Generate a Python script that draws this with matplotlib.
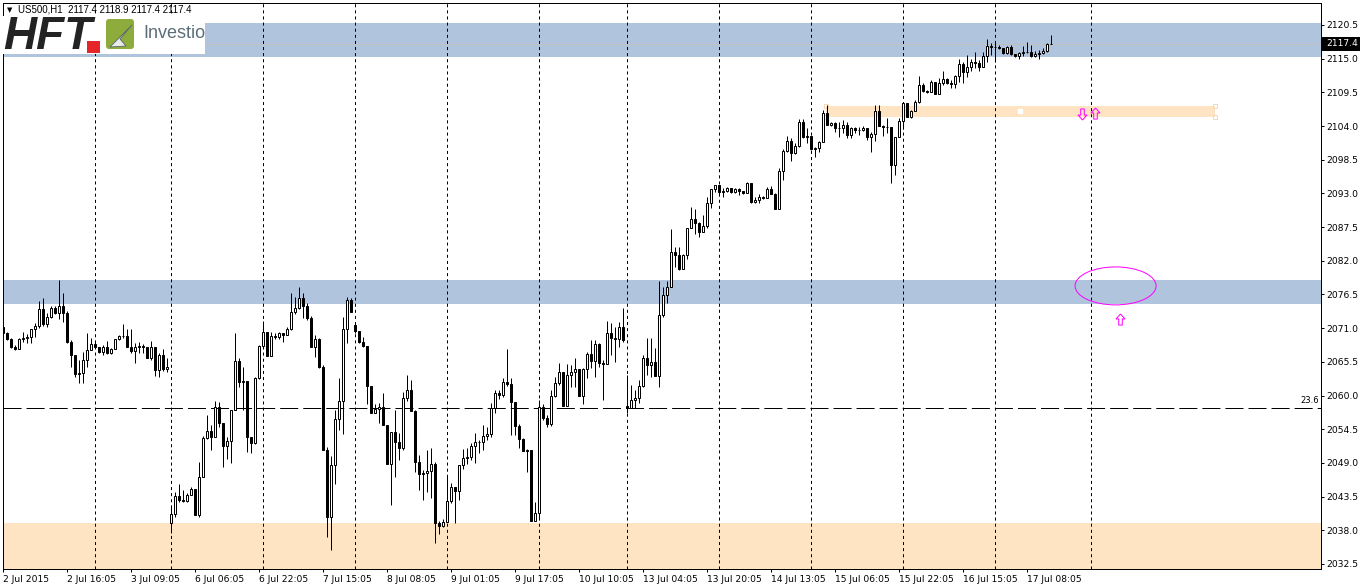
import numpy as np
import matplotlib
matplotlib.use("Agg")
import matplotlib.pyplot as plt
from matplotlib.patches import Rectangle, Ellipse, Polygon, FancyBboxPatch
from matplotlib.path import Path

plt.rcParams["lines.scale_dashes"] = False
plt.rcParams["font.family"] = ["DejaVu Sans"]

# ── US500 H1 bars, 2 Jul 2015 -> 17 Jul 2015 (open = previous close) ──────────
first_open = 2071.2
gap_opens = {42: 2039.2, 88: 2071.5, 156: 2058.3}

closes = [
    2070.2, 2069.2, 2067.9, 2067.6, 2069.2, 2069.4, 2069.6, 2070.9, 2071.4, 2074.1,
    2071.7, 2072.8, 2074.3, 2073.5, 2074.6, 2073.5, 2068.7, 2066.6, 2063.5, 2063.7,
    2065.8, 2067.4, 2068.4, 2067.9, 2067.1, 2067.9, 2066.9, 2067.6, 2069.2, 2069.7,
    2069.7, 2067.9, 2067.3, 2067.9, 2068.1, 2067.9, 2066.1, 2067.9, 2064.2, 2066.6,
    2064.3, 2064.7, 2040.7, 2043.6, 2043.0, 2042.8, 2043.8, 2044.7, 2040.5, 2046.7,
    2053.1, 2054.2, 2053.2, 2058.1, 2055.5, 2051.8, 2052.6, 2057.6, 2065.6, 2062.2,
    2062.4, 2053.2, 2052.3, 2062.9, 2068.1, 2070.4, 2066.5, 2069.7, 2069.6, 2070.2,
    2069.9, 2070.9, 2073.6, 2074.3, 2075.9, 2074.6, 2072.7, 2067.9, 2069.2, 2064.7,
    2051.1, 2040.2, 2048.7, 2056.2, 2059.1, 2070.9, 2075.6, 2073.6, 2070.5, 2068.7,
    2068.1, 2061.6, 2057.2, 2057.8, 2058.1, 2055.2, 2048.8, 2054.0, 2052.4, 2051.4,
    2059.6, 2060.9, 2057.5, 2049.2, 2047.2, 2047.4, 2047.7, 2048.8, 2039.2, 2038.7,
    2039.4, 2042.8, 2045.1, 2044.4, 2048.7, 2049.8, 2050.0, 2051.8, 2052.4, 2052.4,
    2053.4, 2053.7, 2058.0, 2060.4, 2060.1, 2062.2, 2061.9, 2058.9, 2055.0, 2052.9,
    2051.0, 2051.1, 2039.5, 2040.8, 2058.1, 2056.3, 2055.4, 2059.9, 2062.0, 2063.8,
    2058.3, 2063.4, 2063.8, 2064.3, 2059.9, 2064.3, 2066.8, 2065.6, 2068.4, 2065.3,
    2065.2, 2070.2, 2069.4, 2069.2, 2071.2, 2069.1, 2058.0, 2059.3, 2059.6, 2061.6,
    2066.1, 2065.0, 2065.5, 2063.2, 2073.2, 2076.4, 2077.7, 2083.4, 2083.0, 2080.7,
    2083.0, 2087.4, 2088.8, 2088.2, 2086.7, 2087.7, 2091.4, 2093.7, 2094.4, 2093.2,
    2093.4, 2093.9, 2093.2, 2093.7, 2093.4, 2093.1, 2094.7, 2091.6, 2091.9, 2092.4,
    2092.3, 2093.7, 2092.9, 2090.5, 2096.7, 2099.9, 2101.6, 2099.6, 2100.7, 2104.7,
    2102.2, 2102.4, 2100.3, 2100.4, 2101.4, 2106.1, 2104.2, 2104.5, 2103.7, 2103.7,
    2104.2, 2102.5, 2103.7, 2103.4, 2103.4, 2103.7, 2102.2, 2102.7, 2106.5, 2104.0,
    2103.8, 2103.8, 2097.6, 2102.2, 2104.8, 2107.8, 2105.5, 2106.5, 2107.9, 2110.7,
    2109.7, 2109.6, 2111.2, 2109.2, 2111.0, 2111.7, 2111.0, 2110.9, 2112.2, 2114.1,
    2112.8, 2113.6, 2114.5, 2114.3, 2113.6, 2115.4, 2117.1, 2116.9, 2116.9, 2116.7,
    2115.9, 2116.9, 2115.8, 2115.4, 2115.9, 2116.1, 2116.1, 2115.4, 2115.8, 2115.9,
    2116.3, 2117.4, 2117.4,
]

highs = [
    2071.5, 2070.4, 2069.4, 2068.3, 2069.4, 2070.4, 2070.0, 2070.9, 2071.8, 2075.4,
    2075.9, 2073.5, 2074.6, 2074.6, 2078.9, 2076.7, 2073.8, 2069.1, 2066.6, 2065.8,
    2067.1, 2070.2, 2069.4, 2068.9, 2067.9, 2068.3, 2068.9, 2067.8, 2069.2, 2069.9,
    2071.7, 2070.9, 2070.9, 2068.6, 2068.7, 2068.4, 2067.9, 2068.9, 2067.9, 2067.0,
    2067.6, 2066.1, 2041.8, 2044.2, 2045.6, 2044.6, 2044.1, 2045.1, 2044.7, 2049.2,
    2053.4, 2056.8, 2055.2, 2059.1, 2058.9, 2055.4, 2053.2, 2057.6, 2070.2, 2066.1,
    2064.7, 2062.4, 2053.1, 2063.0, 2068.3, 2072.2, 2070.2, 2070.4, 2070.2, 2070.4,
    2070.2, 2071.2, 2076.7, 2076.1, 2077.7, 2076.7, 2075.1, 2073.0, 2069.9, 2069.4,
    2065.0, 2051.6, 2050.1, 2057.6, 2062.9, 2072.8, 2076.1, 2075.9, 2071.8, 2070.4,
    2069.6, 2068.1, 2061.4, 2058.6, 2058.8, 2060.4, 2055.2, 2054.0, 2057.6, 2053.9,
    2060.6, 2063.4, 2062.5, 2057.6, 2050.3, 2047.8, 2051.1, 2051.4, 2049.2, 2039.5,
    2039.8, 2046.9, 2045.7, 2045.1, 2048.7, 2051.3, 2051.4, 2052.3, 2053.9, 2052.7,
    2055.2, 2054.9, 2058.8, 2060.9, 2060.9, 2062.9, 2067.6, 2062.9, 2058.8, 2055.4,
    2053.1, 2051.3, 2051.1, 2042.6, 2059.3, 2058.6, 2056.8, 2060.9, 2063.0, 2065.3,
    2063.8, 2065.2, 2065.0, 2066.1, 2064.3, 2064.5, 2067.1, 2069.1, 2069.1, 2068.6,
    2065.8, 2072.2, 2071.8, 2071.2, 2072.0, 2074.3, 2063.4, 2061.7, 2060.9, 2062.5,
    2066.6, 2069.4, 2069.4, 2067.8, 2078.7, 2077.7, 2078.7, 2087.2, 2084.3, 2084.3,
    2083.1, 2087.4, 2090.8, 2090.5, 2088.3, 2089.5, 2092.4, 2093.7, 2094.4, 2093.9,
    2093.9, 2094.0, 2093.9, 2093.9, 2093.9, 2093.4, 2094.9, 2094.7, 2092.4, 2092.9,
    2092.6, 2094.0, 2094.2, 2093.1, 2097.2, 2100.3, 2102.4, 2102.1, 2101.2, 2105.2,
    2105.2, 2103.7, 2101.2, 2100.6, 2101.6, 2106.6, 2107.4, 2104.7, 2104.7, 2104.7,
    2105.0, 2104.7, 2103.8, 2103.8, 2103.8, 2104.0, 2103.7, 2103.0, 2107.4, 2107.4,
    2104.2, 2105.3, 2103.8, 2102.2, 2105.3, 2107.9, 2107.8, 2106.6, 2108.3, 2112.2,
    2111.0, 2109.9, 2111.5, 2111.2, 2111.8, 2113.0, 2111.8, 2111.5, 2112.3, 2114.9,
    2114.5, 2115.6, 2114.9, 2116.1, 2114.8, 2116.1, 2118.2, 2117.6, 2117.6, 2117.2,
    2116.7, 2117.1, 2117.2, 2115.8, 2116.1, 2117.1, 2117.7, 2117.2, 2116.3, 2116.4,
    2116.7, 2117.6, 2118.9,
]

lows = [
    2069.9, 2069.1, 2067.8, 2067.4, 2067.6, 2068.7, 2068.6, 2068.6, 2069.6, 2071.0,
    2071.4, 2071.2, 2072.7, 2073.3, 2072.5, 2072.0, 2068.6, 2064.7, 2063.0, 2062.1,
    2062.1, 2064.7, 2067.4, 2067.8, 2066.9, 2066.6, 2066.8, 2066.8, 2067.6, 2069.1,
    2069.4, 2067.9, 2066.9, 2065.3, 2066.9, 2066.9, 2066.1, 2065.8, 2063.2, 2063.0,
    2064.0, 2063.8, 2037.6, 2040.2, 2042.6, 2042.6, 2042.6, 2043.8, 2040.5, 2040.2,
    2046.7, 2052.9, 2051.1, 2053.2, 2054.9, 2048.3, 2049.6, 2049.0, 2057.8, 2061.4,
    2057.6, 2050.8, 2050.6, 2052.1, 2062.7, 2068.6, 2066.5, 2066.5, 2069.2, 2069.2,
    2068.7, 2069.9, 2070.7, 2073.3, 2074.1, 2072.7, 2072.3, 2067.9, 2066.3, 2064.5,
    2051.1, 2036.9, 2034.8, 2045.6, 2054.4, 2053.7, 2068.6, 2073.6, 2070.2, 2068.6,
    2067.9, 2058.6, 2057.2, 2057.2, 2055.5, 2055.2, 2048.8, 2042.1, 2046.7, 2049.5,
    2051.1, 2059.1, 2057.5, 2047.5, 2044.6, 2043.0, 2044.2, 2043.3, 2035.9, 2037.4,
    2038.5, 2039.4, 2042.5, 2039.2, 2043.0, 2048.0, 2048.8, 2049.5, 2049.0, 2050.6,
    2051.1, 2052.7, 2053.2, 2057.2, 2059.4, 2059.8, 2061.6, 2053.6, 2053.6, 2051.4,
    2051.0, 2047.5, 2039.5, 2039.8, 2039.8, 2056.0, 2054.9, 2055.0, 2059.8, 2061.7,
    2058.3, 2058.3, 2061.4, 2061.4, 2059.9, 2058.6, 2062.9, 2064.5, 2063.0, 2064.7,
    2059.3, 2065.2, 2066.6, 2065.5, 2067.9, 2068.7, 2057.2, 2058.0, 2058.0, 2058.8,
    2061.4, 2063.4, 2063.0, 2063.2, 2061.4, 2072.8, 2075.1, 2077.7, 2081.0, 2080.5,
    2080.7, 2082.3, 2087.5, 2086.4, 2085.9, 2086.7, 2087.4, 2090.6, 2093.2, 2092.7,
    2092.4, 2093.2, 2093.1, 2093.1, 2092.7, 2092.9, 2093.1, 2091.4, 2091.4, 2091.4,
    2092.1, 2092.3, 2092.9, 2090.5, 2090.5, 2095.2, 2099.8, 2098.3, 2099.4, 2100.6,
    2102.0, 2101.2, 2100.1, 2098.9, 2099.8, 2101.4, 2104.2, 2104.0, 2103.0, 2102.2,
    2102.9, 2102.0, 2102.0, 2102.9, 2102.5, 2103.2, 2101.7, 2099.8, 2101.6, 2104.0,
    2102.4, 2102.9, 2094.7, 2096.0, 2102.2, 2103.5, 2105.5, 2105.3, 2106.5, 2107.8,
    2109.6, 2109.4, 2109.6, 2109.2, 2109.2, 2110.7, 2110.9, 2110.2, 2110.2, 2111.2,
    2111.0, 2112.0, 2113.0, 2113.5, 2113.0, 2113.8, 2114.5, 2115.6, 2114.5, 2116.6,
    2115.8, 2115.8, 2115.6, 2115.3, 2114.9, 2115.4, 2115.9, 2115.3, 2115.3, 2114.9,
    2115.8, 2116.1, 2117.4,
]

# time axis labels (every 16 bars) and daily separators (bar index)
tick_bars = list(range(0, 257, 16))
tick_labels = ["2 Jul 2015", "2 Jul 16:05", "3 Jul 09:05", "6 Jul 06:05", "6 Jul 22:05",
               "7 Jul 15:05", "8 Jul 08:05", "9 Jul 01:05", "9 Jul 17:05", "10 Jul 10:05",
               "13 Jul 04:05", "13 Jul 20:05", "14 Jul 13:05", "15 Jul 06:05",
               "15 Jul 22:05", "16 Jul 15:05", "17 Jul 08:05"]
separators = [23, 42, 65, 88, 111, 134, 156, 179, 202, 225, 248, 272]
price_ticks = [2032.5 + 5.5 * k for k in range(17)]

# zones / levels drawn on the chart
blue_zones = [(2115.3, 2120.8), (2074.95, 2078.9)]
orange_zone = (2020.0, 2039.2)
small_zone = (205.7, 302.9, 2105.5, 2107.3)   # x0, x1, y0, y1
fib_level = 2058.0
last_price = 2117.4
header = "US500,H1  2117.4 2118.9 2117.4 2117.4"

# ── build opens ───────────────────────────────────────────────────────────────
opens = [first_open] + closes[:-1]
for k, v in gap_opens.items():
    opens[k] = v
o = np.array(opens)
c = np.array(closes)
hi = np.maximum(np.array(highs), np.maximum(o, c))
lo = np.minimum(np.array(lows), np.minimum(o, c))
x = np.arange(len(c))

# ── figure ────────────────────────────────────────────────────────────────────
W, H = 1362, 586
LW = 0.72   # one pixel
fig = plt.figure(figsize=(W / 100, H / 100), dpi=100)
fig.patch.set_facecolor("white")
ax = fig.add_axes([2.5 / W, 1 - 569 / H, (1321 - 2.5) / W, (569 - 2.5) / H])
ax.set_xlim(-0.2, 329.4)
ax.set_ylim(2031.68, 2124.17)

for y0, y1 in blue_zones:
    ax.axhspan(y0, y1, color="#b0c4de", lw=0, zorder=0)
ax.axhspan(*orange_zone, color="#ffe4c4", lw=0, zorder=0)
x0, x1, y0, y1 = small_zone
ax.add_patch(Rectangle((x0, y0), x1 - x0, y1 - y0, facecolor="#ffe4c4", lw=0, zorder=0.5))
ax.plot([x0, x1, x0, x1], [y1, y1, y0, y0], ls="none", marker="s", ms=3,
        mfc="none", mec="#f7d7b5", mew=LW, zorder=0.6)
ax.plot([254.2], [2106.5], ls="none", marker="s", ms=2.5, mfc="white", mec="white", zorder=0.6)

for s in separators:
    ax.axvline(s, color="black", lw=LW, ls=(0, (2.2, 2.2)), zorder=1)

ax.axhline(last_price, color="#c0c0c0", lw=LW, zorder=1)
ax.axhline(fib_level, color="black", lw=LW, ls=(0, (13, 3.6)), zorder=1)
ax.text(329.0, fib_level + 0.4, "23.6", fontsize=6, ha="right", va="bottom", zorder=2)

# candles
ax.vlines(x, lo, hi, color="black", lw=LW, zorder=3)
up = c >= o
ax.bar(x, np.abs(c - o), bottom=np.minimum(o, c), width=0.5,
       color=np.where(up, "white", "black"), edgecolor="black", linewidth=LW, zorder=4)

# magenta annotations
arrow = Path([(0, 1), (0.8, 0.1), (0.32, 0.1), (0.32, -1), (-0.32, -1),
              (-0.32, 0.1), (-0.8, 0.1), (0, 1)])
arrow_dn = Path(arrow.vertices * [1, -1])
ax.plot([273.0, 279.05], [2106.05, 2072.5], ls="none", marker=arrow, ms=8,
        mfc="none", mec="#ff00ff", mew=LW, zorder=5)
ax.plot([269.7], [2105.9], ls="none", marker=arrow_dn, ms=8,
        mfc="none", mec="#ff00ff", mew=LW, zorder=5)
ax.add_patch(Ellipse((278.05, 2077.9), 20.25, 6.2, fill=False, ec="#ff00ff", lw=LW, zorder=5))

# axes styling
for sp in ax.spines.values():
    sp.set_linewidth(LW)
    sp.set_color("black")
ax.yaxis.tick_right()
ax.set_yticks(price_ticks)
ax.set_yticklabels([f"{v:.1f}" for v in price_ticks])
ax.set_xticks(tick_bars)
ax.set_xticklabels(tick_labels)
for t in ax.get_xticklabels():
    t.set_horizontalalignment("left")
ax.tick_params(axis="both", direction="out", length=2.5, width=LW, labelsize=6.6,
               colors="black", pad=1.5)
ax.tick_params(axis="x", pad=2)

# ── overlay in pixel coordinates: header, logo, price box ────────────────────
ov = fig.add_axes([0, 0, 1, 1], zorder=10)
ov.set_xlim(0, W)
ov.set_ylim(H, 0)
ov.axis("off")
ov.patch.set_alpha(0)

ov.add_patch(Rectangle((1322, 37), 38, 14, facecolor="black", lw=0))
ov.text(1326, 44, f"{last_price:.1f}", color="white", fontsize=6.6, ha="left", va="center")

ov.text(7, 10, "▼", fontsize=5, ha="left", va="center")
ov.text(18, 10, header, family="Liberation Sans", fontsize=7, ha="left", va="center")

# broker logo
ov.add_patch(Rectangle((3, 16), 202, 38, facecolor="white", lw=0))
ov.text(3, 37, "HFT", family="Liberation Sans", fontsize=33, fontweight="bold",
        style="italic", color="#232323", ha="left", va="center")
ov.add_patch(Rectangle((87, 41), 13, 12, facecolor="#e4262b", lw=0))
ov.add_patch(FancyBboxPatch((106, 19), 28, 30, boxstyle="round,pad=0,rounding_size=3",
                            facecolor="#8dac3b", lw=0))
ov.add_patch(Polygon([(110, 47), (132, 25), (120, 39), (126, 46)], closed=True,
                     facecolor="#e8ece8", edgecolor="#56646c", lw=0.6))
ov.text(143, 34, "Investio", family="Liberation Sans", fontsize=13,
        color="#5b6e7a", ha="left", va="center")

fig.savefig("out.png", dpi=100, facecolor="white")
